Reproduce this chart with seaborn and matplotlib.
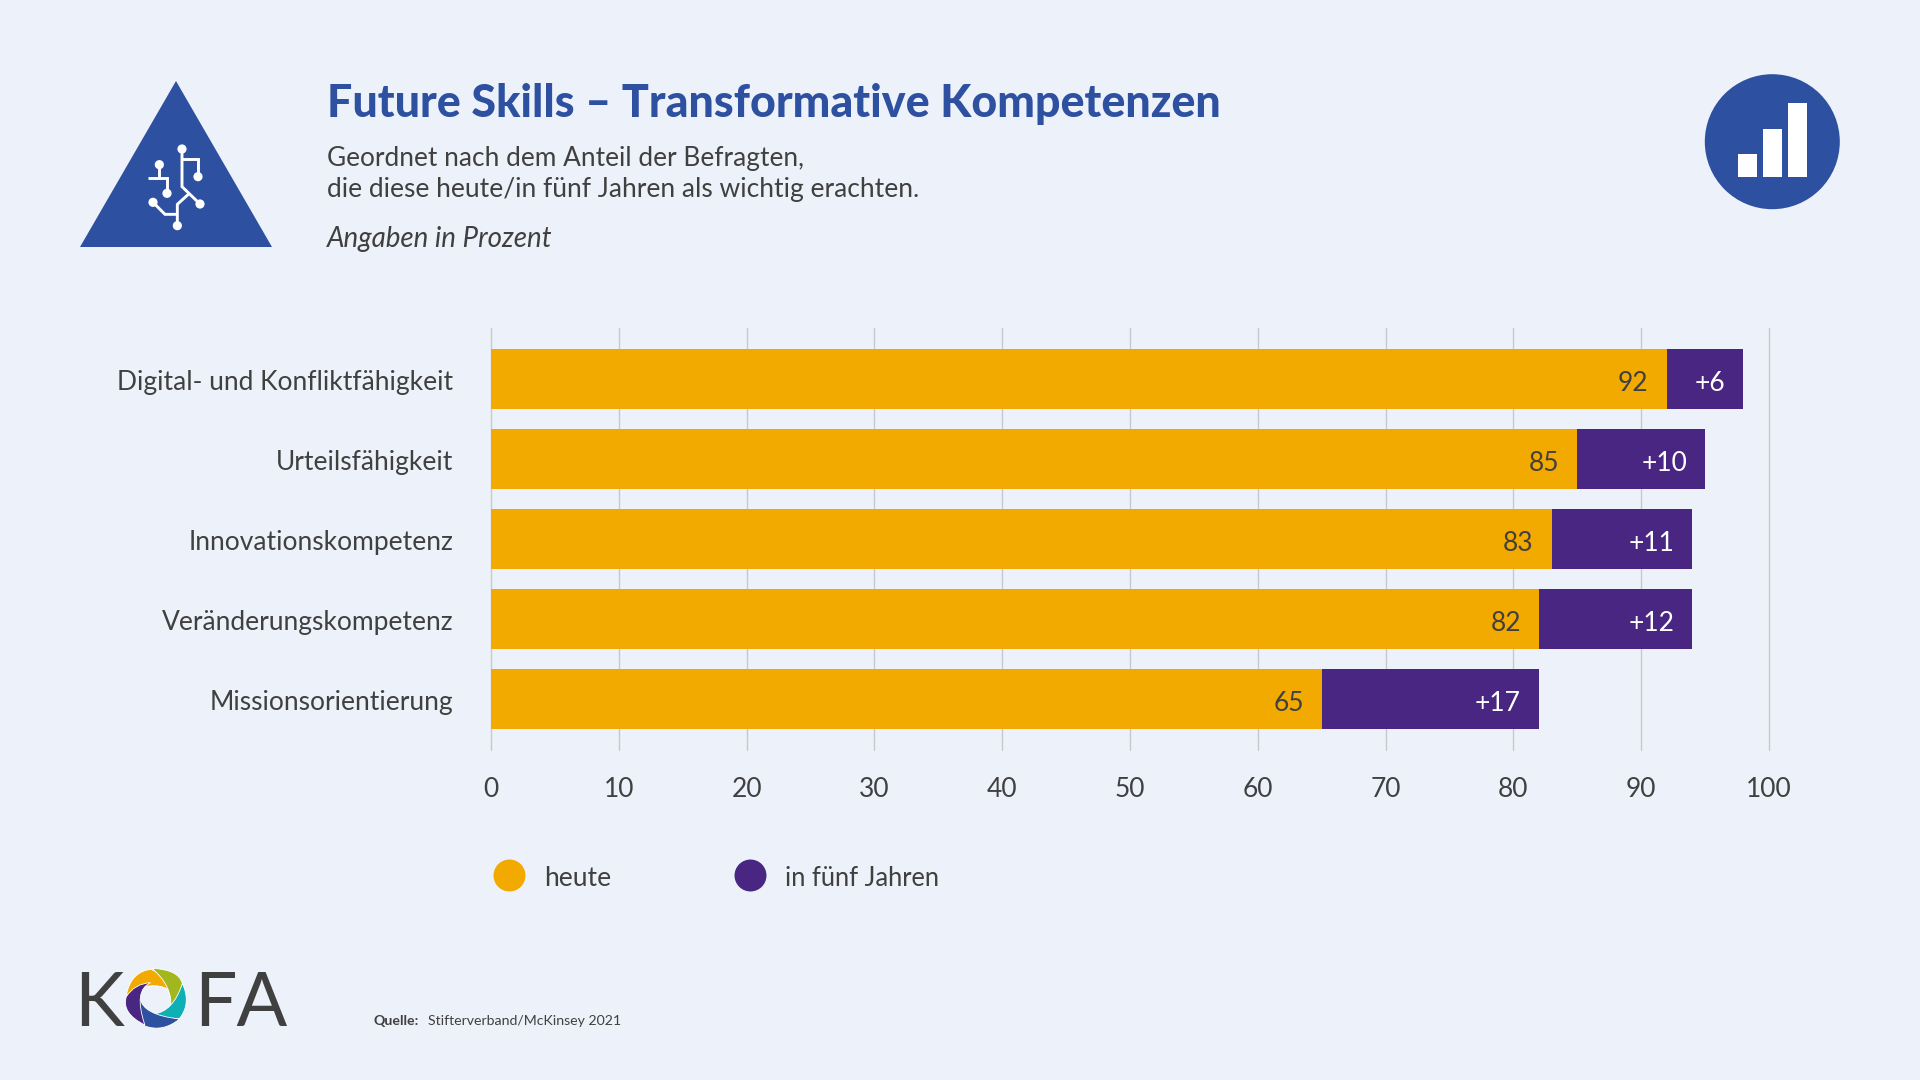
import matplotlib
matplotlib.use('Agg')
import matplotlib.pyplot as plt
import seaborn as sns
import pandas as pd
from matplotlib.patches import Circle, PathPatch, Polygon, Rectangle
from matplotlib.path import Path
from matplotlib.transforms import ScaledTranslation

skills = ['Digital- und Konfliktfähigkeit', 'Urteilsfähigkeit', 'Innovationskompetenz',
          'Veränderungskompetenz', 'Missionsorientierung']
heute = [92, 85, 83, 82, 65]
zuwachs = [6, 10, 11, 12, 17]
x_ticks = [0, 10, 20, 30, 40, 50, 60, 70, 80, 90, 100]

BG = '#EDF2FA'
BLUE = '#2E50A0'
ORANGE = '#F2A900'
PURPLE = '#4A2683'
TEXT = '#404040'
FONT = 'Lato'
W, H = 1920, 1080


def draw_bars(fig):
    df = pd.DataFrame({'skill': skills, 'heute': heute, 'zuwachs': zuwachs})
    df['gesamt'] = df['heute'] + df['zuwachs']

    ax = fig.add_axes([491 / W, 1 - 749.5 / H, 1278 / W, 421 / H])
    ax.set_facecolor('none')
    sns.barplot(data=df, y='skill', x='gesamt', color=PURPLE, width=0.76, saturation=1, linewidth=0, ax=ax, zorder=3)
    sns.barplot(data=df, y='skill', x='heute', color=ORANGE, width=0.76, saturation=1, linewidth=0, ax=ax, zorder=4)

    ax.set_xlim(0, 100)
    ax.set_ylim(4.63, -0.63)
    ax.set_xticks(x_ticks)
    ax.set_xlabel('')
    ax.set_ylabel('')
    ax.grid(axis='x', color='#C8C9CC', lw=1.0)
    ax.grid(axis='y', visible=False)
    ax.set_axisbelow(True)
    for gl in ax.get_xgridlines():
        gl.set_clip_on(False)
    for s in ax.spines.values():
        s.set_visible(False)
    ax.tick_params(axis='x', length=0, pad=20, labelsize=19, labelcolor=TEXT)
    ax.tick_params(axis='y', length=0, pad=27, labelsize=19, labelcolor=TEXT)
    nudge = ScaledTranslation(0, -1 / 72, fig.dpi_scale_trans)
    for lab in ax.get_yticklabels():
        lab.set_transform(lab.get_transform() + nudge)

    for i, row in df.iterrows():
        ax.annotate(str(row['heute']), (row['heute'], i), xytext=(-13, -3), textcoords='offset points',
                    ha='right', va='center', fontsize=19, color=TEXT, zorder=5)
        ax.annotate(f"+{row['zuwachs']}", (row['gesamt'], i), xytext=(-13, -3), textcoords='offset points',
                    ha='right', va='center', fontsize=19, color='white', zorder=5)
    return ax


def draw_triangle_icon(deco):
    deco.add_patch(Polygon([(176, 81), (80, 247), (272, 247)], fc=BLUE, ec='none'))
    # circuit lines, read in the zoomed crop (3x, offset 50)
    lines = [[(396, 297), (396, 410), (450, 462)],
             [(396, 328), (444, 328), (444, 380)],
             [(328, 344), (328, 384)],
             [(294, 384), (351, 384), (351, 430)],
             [(309, 457), (345, 493), (382, 493)],
             [(382, 527), (382, 463), (416, 432)]]
    for ln in lines:
        deco.plot([p[0] / 3 + 50 for p in ln], [p[1] / 3 + 50 for p in ln], color='white', lw=2.1,
                  solid_joinstyle='miter', solid_capstyle='butt')
    for x, y in [(396, 297), (444, 380), (328, 344), (351, 430), (450, 462), (309, 457), (382, 527)]:
        deco.add_patch(Circle((x / 3 + 50, y / 3 + 50), 4.6, fc='white', ec='none'))


def draw_chart_icon(deco):
    deco.add_patch(Circle((1772.3, 141.7), 67.5, fc=BLUE, ec='none'))
    for x0, top in [(1738.3, 154), (1763.3, 128.7), (1788.3, 103.3)]:
        deco.add_patch(Rectangle((x0, top), 18.2, 176.7 - top, fc='white', ec='none'))


def draw_logo(deco):
    deco.text(74, 1026, 'K', fontsize=54, color=TEXT, family=FONT, va='baseline', ha='left')
    deco.text(194, 1026, 'FA', fontsize=54, color=TEXT, family=FONT, va='baseline', ha='left')
    # swirl blades in crop coordinates (x scale 2.53, y scale 3, offset 50/940)
    blades = [
        ('#F2A900', [(193, 165), (205, 95), (255, 88), (295, 105), (303, 150), (255, 118), (193, 165)]),
        ('#A2B71E', [(258, 85), (325, 88), (335, 130), (335, 175), (305, 205), (312, 140), (258, 85)]),
        ('#0FB0B5', [(335, 130), (358, 190), (328, 235), (295, 240), (262, 222), (312, 215), (335, 130)]),
        ('#2E50A0', [(328, 237), (285, 278), (240, 258), (215, 220), (228, 175), (235, 225), (328, 237)]),
        ('#4A2683', [(240, 255), (180, 220), (193, 170), (215, 130), (255, 128), (210, 150), (240, 255)]),
    ]
    codes = [Path.MOVETO, Path.CURVE3, Path.CURVE3, Path.CURVE3, Path.CURVE3, Path.CURVE3, Path.CURVE3]
    for col, pts in blades:
        verts = [(x / 2.53 + 50, y / 3 + 940) for x, y in pts]
        deco.add_patch(PathPatch(Path(verts, codes), fc=col, ec='white', lw=0.6))


def draw_texts(deco):
    deco.text(327, 117, 'Future Skills – Transformative Kompetenzen', fontsize=32.2, fontweight='black',
              color=BLUE, family=FONT, va='baseline')
    deco.text(327, 166, 'Geordnet nach dem Anteil der Befragten,', fontsize=18.9, color=TEXT, family=FONT, va='baseline')
    deco.text(327, 197, 'die diese heute/in fünf Jahren als wichtig erachten.', fontsize=19, color=TEXT,
              family=FONT, va='baseline')
    deco.text(327, 247, 'Angaben in Prozent', fontsize=20, style='italic', color=TEXT, family=FONT, va='baseline')
    deco.text(373, 1021, 'Quelle:', fontsize=10.2, fontweight='bold', color=TEXT, family=FONT, va='center')
    deco.text(428, 1021, 'Stifterverband/McKinsey 2021', fontsize=10.2, color=TEXT, family=FONT, va='center')


def draw_legend(deco):
    deco.scatter([509], [875], s=530, color=ORANGE, linewidths=0)
    deco.scatter([749.5], [875], s=530, color=PURPLE, linewidths=0)
    deco.text(544, 878, 'heute', fontsize=19, color=TEXT, family=FONT, va='center')
    deco.text(785, 878, 'in fünf Jahren', fontsize=18.4, color=TEXT, family=FONT, va='center')


def main():
    sns.set_theme(style='white')
    plt.rcParams['font.family'] = [FONT, 'DejaVu Sans']
    fig = plt.figure(figsize=(19.2, 10.8), dpi=100, facecolor=BG)

    draw_bars(fig)

    deco = fig.add_axes([0, 0, 1, 1], zorder=10)
    deco.set_xlim(0, W)
    deco.set_ylim(H, 0)
    deco.axis('off')
    draw_triangle_icon(deco)
    draw_chart_icon(deco)
    draw_logo(deco)
    draw_texts(deco)
    draw_legend(deco)

    fig.savefig('out.png', dpi=100, facecolor=BG)


main()
